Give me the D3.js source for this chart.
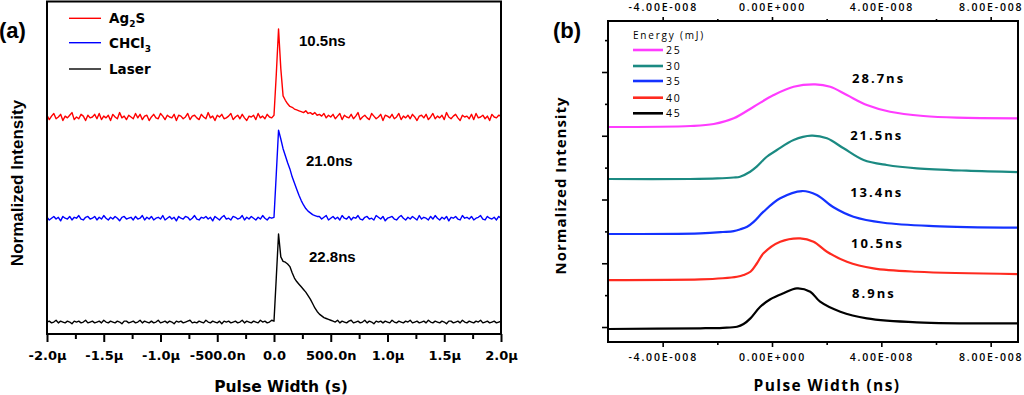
<!DOCTYPE html>
<html lang="en">
<head>
<meta charset="UTF-8">
<title>Pulse width comparison</title>
<script src="https://d3js.org/d3.v7.min.js"></script>
<style>
  body { margin: 0; background: #fff; }
  svg { display: block; }
</style>
</head>
<body>
<svg width="1024" height="395"></svg>
<script>
// ---------- panel (a): traces sampled every 0.02 µs from -2.0 µs ----------
const tStart = -2.0, tStep = 0.02;
const namesA = ["Ag2S", "CHCl3", "Laser"];
const colorsA = ["#ff0000", "#0000ff", "#000000"];
const offsetsA = [2.33, 1.18, 0];
const widthsA = ["10.5ns", "21.0ns", "22.8ns"];

// normalized intensity, in hundredths
const ag2s = [
  2,-3,1,4,-2,0,3,-4,1,-1,2,5,-3,0,-2,3,1,-4,2,-1,
  0,3,-2,4,-3,1,-1,2,-4,3,0,-2,5,-1,1,-3,2,0,-2,4,
  -1,3,-3,1,2,-4,0,3,-1,-2,4,1,-3,2,0,-1,3,-4,2,1,
  -2,0,4,-3,1,2,-1,-3,3,0,-2,5,-1,1,-4,2,0,3,-2,-1,
  1,4,-3,0,2,-2,3,-1,-4,1,0,2,-3,4,-1,1,-2,3,0,-1,
  2,48,100,55,24,19,15,12,11,9,8,7,6,5,7,4,5,3,5,2,
  3,1,4,-1,2,0,3,-2,1,4,-3,2,0,-1,3,-2,1,5,-3,0,
  2,-1,-3,4,1,-2,0,3,-4,2,1,-1,3,-2,0,4,-3,1,-1,2,
  -2,3,0,-4,1,2,-1,3,-3,0,4,-2,1,-1,2,-3,5,0,-2,1,
  3,-1,-4,2,0,1,-2,3,-3,4,-1,0,2,-2,1,-4,3,0,-1,2,
  1
];
const chcl3 = [
  1,-2,0,2,-1,1,-3,2,0,-1,2,-2,1,0,3,-1,-2,1,2,-1,
  0,2,-2,1,-1,3,0,-2,1,-1,2,0,-3,1,2,-1,0,1,-2,2,
  -1,0,3,-2,1,-1,2,-2,0,1,-1,3,-2,0,2,-1,1,-3,2,0,
  -1,2,1,-2,0,3,-1,-2,1,0,2,-1,1,-3,2,0,-2,1,3,-1,
  0,-2,2,1,-1,0,3,-2,1,-1,2,0,-2,1,-1,3,0,-2,1,0,
  1,50,100,90,79,71,63,56,47,40,33,26,20,15,11,8,6,4,3,2,
  2,-1,1,3,-2,0,2,-1,1,-2,3,0,-1,2,-2,1,0,3,-1,-2,
  1,2,-1,0,-2,3,1,-1,2,-3,0,1,2,-1,-2,1,3,0,-2,1,
  -1,2,0,-2,3,-1,1,0,-2,2,-1,3,0,-2,1,-1,2,-3,1,0,
  2,-1,-2,3,0,1,-1,2,-2,0,1,3,-1,-2,2,0,-1,1,-2,2,
  0
];
const laser = [
  0,1,-1,0,2,-1,1,0,-1,1,0,-2,1,0,1,-1,0,2,-1,0,
  1,-1,0,1,-1,2,0,-1,1,0,-1,1,0,-2,1,1,-1,0,1,-1,
  0,2,-1,1,0,-1,1,-1,0,2,-1,0,1,-1,1,0,-2,1,0,1,
  -1,0,1,2,-1,0,-1,1,0,-1,2,0,-1,1,0,-1,1,-2,1,0,
  1,-1,0,1,-1,0,2,-1,1,0,-1,1,0,-1,2,0,1,-1,0,2,
  1,50,100,74,69,68,66,63,56,50,46,43,40,37,34,30,26,21,16,12,9,7,5,4,3,2,
  1,0,2,-1,1,0,-1,1,2,-1,0,1,-1,0,2,-1,1,0,-2,1,
  0,1,-1,1,0,-1,2,0,-1,1,0,-1,1,0,2,-1,0,1,-1,0,
  1,-1,2,0,-1,1,0,-1,1,0,-2,1,1,-1,0,1,-1,2,0,-1,
  1,0,-1,1,0,2,-1,0,1,-1,0,1,-1,0,1
];
const ticksA = [-2, -1.5, -1, -0.5, 0, 0.5, 1, 1.5, 2];
const minorTicksA = [-1.75, -1.25, -0.75, -0.25, 0.25, 0.75, 1.25, 1.75];
const tickLabelsA = ["-2.0μ", "-1.5μ", "-1.0μ", "-500.0n", "0.0", "500.0n", "1.0μ", "1.5μ", "2.0μ"];

// ---------- panel (b): x in ns ----------
const energies = ["25", "30", "35", "40", "45"];
const colorsB = ["#ff3cff", "#1b8a82", "#1432ff", "#ff2a1f", "#000000"];
const widthsB = ["28.7ns", "21.5ns", "13.4ns", "10.5ns", "8.9ns"];
const e25x = [-60, -29.8, -21.3, -14.0, -6.7, 0.6, 7.9, 15.8, 21.3, 27.4, 34.7, 43.2, 55.4, 67.6, 90];
const e25y = [3.137, 3.153, 3.184, 3.274, 3.456, 3.639, 3.769, 3.807, 3.769, 3.639, 3.482, 3.377, 3.310, 3.283, 3.274];
const e30x = [-60, -30, -20, -14, -11.7, -8.0, -5.6, -1.9, 1.8, 7.9, 14.4, 20.1, 26.2, 33.5, 42.0, 53.0, 71.2, 90];
const e30y = [2.322, 2.322, 2.330, 2.345, 2.358, 2.436, 2.515, 2.671, 2.776, 2.933, 3.001, 2.960, 2.803, 2.620, 2.541, 2.489, 2.452, 2.431];
const e35x = [-60, -26.2, -18, -14, -11.6, -9.1, -6.7, -3.1, 3.0, 11.0, 16.4, 22.5, 29.8, 40.8, 59.0, 90];
const e35y = [1.459, 1.470, 1.490, 1.505, 1.533, 1.573, 1.650, 1.809, 2.019, 2.133, 2.071, 1.878, 1.730, 1.636, 1.584, 1.558];
const e40x = [-60, -26.2, -18, -12.8, -10.4, -7.9, -5.5, -3.1, 3.0, 10.3, 15.2, 20.1, 27.4, 37.1, 53, 90];
const e40y = [0.737, 0.748, 0.765, 0.789, 0.816, 0.867, 1.000, 1.156, 1.338, 1.391, 1.338, 1.181, 1.024, 0.921, 0.867, 0.831];
const e45x = [-60, -26.2, -18, -12.8, -10.4, -7.9, -4.3, -0.6, 4.2, 9.1, 14.0, 17.6, 25.0, 34.7, 53, 90];
const e45y = [-0.031, -0.020, -0.012, 0.005, 0.047, 0.136, 0.318, 0.435, 0.529, 0.607, 0.554, 0.397, 0.240, 0.136, 0.074, 0.058];
const ticksB = [-40, 0, 40, 80];
const minorTicksB = [-20, 20, 60];
const tickLabelsB = ["-4.00E-008", "0.00E+000", "4.00E-008", "8.00E-008"];
const yTicksB = [0, 1, 2, 3, 4];
const yMinorTicksB = [0.5, 1.5, 2.5, 3.5, 4.5];

const svg = d3.select("svg");
const ARIAL = '"Liberation Sans", Arial, sans-serif';
const DEJA = '"DejaVu Sans", sans-serif';
const OPEN = '"Open Sans", sans-serif';

// ================= panel (a) =================
const xA = d3.scaleLinear().domain([-2, 2]).range([47, 501]);
const yA = d3.scaleLinear().domain([-0.136, 3.648]).range([334, 1]);

const gA = svg.append("g");
gA.append("defs").append("clipPath").attr("id", "clipA")
  .append("rect").attr("x", 47).attr("y", 1).attr("width", 454).attr("height", 333);

const tracesA = [ag2s, chcl3, laser];
const lineA = d3.line().x(d => xA(d[0])).y(d => yA(d[1]));
tracesA.forEach(function (vals, k) {
  const pts = vals.map((v, i) => [tStart + i * tStep, offsetsA[k] + v / 100]);
  gA.append("path")
    .attr("clip-path", "url(#clipA)")
    .attr("d", lineA(pts))
    .attr("fill", "none")
    .attr("stroke", colorsA[k])
    .attr("stroke-width", 1.4)
    .attr("stroke-linejoin", "round");
});

// axes
const axA = gA.append("g").attr("transform", "translate(0,334)")
  .call(d3.axisBottom(xA).tickValues(ticksA).tickSize(8).tickPadding(9)
    .tickFormat((d, i) => tickLabelsA[i]));
axA.select(".domain").remove();
axA.selectAll("line").attr("stroke-width", 2);
axA.selectAll("text").attr("font-family", DEJA).attr("font-weight", "bold")
  .attr("font-size", 13).attr("fill", "#000");
const axAm = gA.append("g").attr("transform", "translate(0,334)")
  .call(d3.axisBottom(xA).tickValues(minorTicksA).tickSize(5).tickFormat(""));
axAm.select(".domain").remove();
axAm.selectAll("line").attr("stroke-width", 2);

gA.append("rect").attr("x", 47).attr("y", 1.5).attr("width", 454).attr("height", 332.5)
  .attr("fill", "none").attr("stroke", "#000").attr("stroke-width", 2);

// legend
const legA = gA.append("g");
const legY = [18.3, 42.7, 69];
namesA.forEach(function (n, k) {
  legA.append("line").attr("x1", 69).attr("x2", 101)
    .attr("y1", legY[k]).attr("y2", legY[k])
    .attr("stroke", colorsA[k]).attr("stroke-width", 1.4);
  const t = legA.append("text").attr("x", 109).attr("y", legY[k] + 5)
    .attr("font-family", DEJA).attr("font-weight", "bold").attr("font-size", 13.5);
  if (n === "Ag2S") {
    t.append("tspan").text("Ag");
    t.append("tspan").attr("font-size", 9).attr("dy", 4).text("2");
    t.append("tspan").attr("dy", -4).text("S");
  } else if (n === "CHCl3") {
    t.append("tspan").text("CHCl");
    t.append("tspan").attr("font-size", 9).attr("dy", 4).text("3");
  } else {
    t.text(n);
  }
});

// width annotations
const annA = [[0.22, 3.14], [0.282, 1.77], [0.308, 0.68]];
widthsA.forEach(function (w, k) {
  gA.append("text").attr("x", xA(annA[k][0])).attr("y", yA(annA[k][1]))
    .attr("font-family", ARIAL).attr("font-weight", "bold").attr("font-size", 15)
    .text(w);
});

gA.append("text").attr("x", -1).attr("y", 37.5)
  .attr("font-family", ARIAL).attr("font-weight", "bold").attr("font-size", 22).text("(a)");
gA.append("text").attr("transform", "translate(23,183) rotate(-90)")
  .attr("text-anchor", "middle")
  .attr("font-family", ARIAL).attr("font-weight", "bold").attr("font-size", 17)
  .text("Normalized Intensity");
gA.append("text").attr("x", 281).attr("y", 391.5).attr("text-anchor", "middle")
  .attr("font-family", DEJA).attr("font-weight", "bold").attr("font-size", 15.5)
  .text("Pulse Width (s)");

// ================= panel (b) =================
const xB = d3.scaleLinear().domain([-60, 90]).range([608, 1018]);
const yB = d3.scaleLinear().domain([-0.235, 4.8]).range([342, 21]);
const gB = svg.append("g");
gB.append("defs").append("clipPath").attr("id", "clipB")
  .append("rect").attr("x", 608).attr("y", 21).attr("width", 410).attr("height", 321);

const seriesB = [[e25x, e25y], [e30x, e30y], [e35x, e35y], [e40x, e40y], [e45x, e45y]];
const lineB = d3.line().x(d => xB(d[0])).y(d => yB(d[1])).curve(d3.curveCatmullRom.alpha(0.5));
seriesB.forEach(function (s, k) {
  gB.append("path")
    .attr("clip-path", "url(#clipB)")
    .attr("d", lineB(d3.zip(s[0], s[1])))
    .attr("fill", "none")
    .attr("stroke", colorsB[k])
    .attr("stroke-width", 2.2);
});

function styleTicks(sel) {
  sel.select(".domain").remove();
  sel.selectAll("line").attr("stroke-width", 1.6);
  sel.selectAll("text").attr("font-family", OPEN).attr("font-weight", 600)
    .attr("font-size", 10.5).attr("letter-spacing", 1.8).attr("fill", "#000");
}
const fmtB = (d, i) => tickLabelsB[i];
styleTicks(gB.append("g").attr("transform", "translate(0,342)")
  .call(d3.axisBottom(xB).tickValues(ticksB).tickSize(5).tickPadding(7).tickFormat(fmtB)));
styleTicks(gB.append("g").attr("transform", "translate(0,342)")
  .call(d3.axisBottom(xB).tickValues(minorTicksB).tickSize(3).tickFormat("")));
styleTicks(gB.append("g").attr("transform", "translate(0,21)")
  .call(d3.axisTop(xB).tickValues(ticksB).tickSize(4).tickPadding(6).tickFormat(fmtB)));
styleTicks(gB.append("g").attr("transform", "translate(0,21)")
  .call(d3.axisTop(xB).tickValues(minorTicksB).tickSize(2).tickFormat("")));
styleTicks(gB.append("g").attr("transform", "translate(608,0)")
  .call(d3.axisLeft(yB).tickValues(yTicksB).tickSize(6).tickFormat("")));
styleTicks(gB.append("g").attr("transform", "translate(608,0)")
  .call(d3.axisLeft(yB).tickValues(yMinorTicksB).tickSize(3).tickFormat("")));

gB.append("rect").attr("x", 608).attr("y", 21).attr("width", 410).attr("height", 321)
  .attr("fill", "none").attr("stroke", "#000").attr("stroke-width", 2);

// legend
gB.append("text").attr("x", 633).attr("y", 39)
  .attr("font-family", OPEN).attr("font-size", 10).attr("letter-spacing", 1.8)
  .text("Energy (mJ)");
const legYB = [50, 66, 81, 97.7, 113.3];
energies.forEach(function (e, k) {
  gB.append("line").attr("x1", 633).attr("x2", 663)
    .attr("y1", legYB[k]).attr("y2", legYB[k])
    .attr("stroke", colorsB[k]).attr("stroke-width", 2.6);
  gB.append("text").attr("x", 666).attr("y", legYB[k] + 3.8)
    .attr("font-family", OPEN).attr("font-size", 10.5).attr("letter-spacing", 1.8)
    .text(e);
});

// width annotations
const annB = [[29.3, 3.82], [28.6, 2.93], [28.6, 2.04], [28.9, 1.24], [29.3, 0.455]];
widthsB.forEach(function (w, k) {
  gB.append("text").attr("x", xB(annB[k][0])).attr("y", yB(annB[k][1]))
    .attr("font-family", OPEN).attr("font-weight", "bold").attr("font-size", 13)
    .attr("letter-spacing", 2).text(w);
});

gB.append("text").attr("x", 553).attr("y", 37.5)
  .attr("font-family", ARIAL).attr("font-weight", "bold").attr("font-size", 22).text("(b)");
gB.append("text").attr("transform", "translate(566,185.5) rotate(-90)")
  .attr("text-anchor", "middle")
  .attr("font-family", OPEN).attr("font-weight", "bold").attr("font-size", 15)
  .attr("letter-spacing", 1).text("Normalized Intensity");
gB.append("text").attr("x", 827).attr("y", 391).attr("text-anchor", "middle")
  .attr("font-family", OPEN).attr("font-weight", "bold").attr("font-size", 15.5)
  .attr("letter-spacing", 1.4).text("Pulse Width (ns)");
</script>
</body>
</html>
